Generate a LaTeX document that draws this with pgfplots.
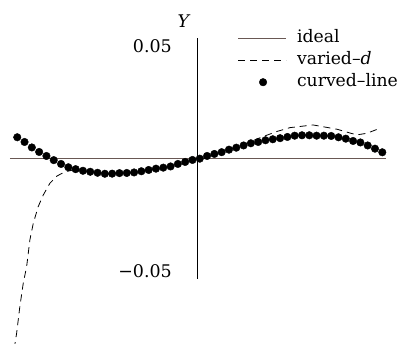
\documentclass[border=0pt]{standalone}
\usepackage{pgfplots}
\pgfplotsset{compat=1.18}
\usepackage{fontspec}
\setmainfont{DejaVu Serif}
\definecolor{ideal}{RGB}{105,88,84}
\pgfplotsset{
  longline legend/.style={legend image code/.code={\draw[##1] (0bp,0bp) -- (48bp,0bp);}},
  dot legend/.style={legend image code/.code={\pgfpathrectangle{\pgfqpoint{0bp}{-2bp}}{\pgfqpoint{48bp}{4bp}}\pgfusepath{discard}\draw[##1] plot coordinates {(25bp,0bp)};}},
}
\begin{document}
\fontsize{17.5}{21}\selectfont
\begin{tikzpicture}
\begin{axis}[
  scale only axis, width=410bp, height=344bp,
  xmin=-1.042, xmax=1.127, ymin=-0.0825, ymax=0.0703,
  axis x line=none, axis y line=center,
  y axis line style={draw=none},
  scaled y ticks=false,
  xtick=\empty, ytick={-0.05,0.05}, yticklabels={−0.05,0.05},
  major tick length=0pt,
  yticklabel style={anchor=east, inner sep=0pt, xshift=-25bp, font=\fontsize{17.5}{21}\selectfont},
  ylabel={\textit{Y}},
  ylabel style={at={(axis cs:-0.068,0.0608)}, anchor=center, rotate=0, font=\fontsize{17.5}{21}\selectfont},
  clip=true,
  legend style={draw=none, fill=none, at={(axis cs:0.214,0.0583)}, anchor=north west,
    font=\fontsize{17.3}{21}\selectfont, row sep=0bp, inner sep=0pt,
    nodes={inner sep=2.5bp, text height=13bp, text depth=4bp},
    /tikz/every odd column/.append style={column sep=8bp}},
  legend cell align=left,
]
\addplot[ideal, line width=0.9pt, longline legend] coordinates {(-0.99,0) (1.0,0)};
\addlegendentry{ideal}
\addplot[black, line width=0.8pt, dash pattern=on 7bp off 5bp, longline legend] coordinates {
(-0.975,-0.0900) (-0.963,-0.0825) (-0.954,-0.0777) (-0.937,-0.0659) (-0.919,-0.0555)
(-0.901,-0.0481) (-0.884,-0.0363) (-0.866,-0.0289) (-0.840,-0.0215) (-0.813,-0.0163)
(-0.778,-0.0111) (-0.741,-0.0079) (-0.698,-0.0060) (-0.642,-0.0050) (-0.566,-0.0060)
(-0.487,-0.0068) (-0.407,-0.0066) (-0.328,-0.0063) (-0.249,-0.0051) (-0.169,-0.0041)
(-0.090,-0.0023) (0,-0.0003) (0.095,0.0019) (0.175,0.0040) (0.254,0.0064)
(0.349,0.0096) (0.423,0.0119) (0.492,0.0136) (0.614,0.0148) (0.741,0.0129)
(0.810,0.0112) (0.847,0.0104) (0.899,0.0111) (0.958,0.0130)};
\addlegendentry{varied–\textit{d}}
\addplot[only marks, mark=*, mark size=3.8pt, black, dot legend] coordinates {
(-0.9508,0.00933) (-0.9122,0.00724) (-0.8735,0.00480) (-0.8349,0.00280) (-0.7963,0.00102)
(-0.7577,-0.00084) (-0.7190,-0.00253) (-0.6804,-0.00400) (-0.6418,-0.00484) (-0.6032,-0.00555)
(-0.5646,-0.00600) (-0.5259,-0.00644) (-0.4873,-0.00688) (-0.4487,-0.00684) (-0.4101,-0.00660)
(-0.3714,-0.00653) (-0.3328,-0.00630) (-0.2942,-0.00577) (-0.2556,-0.00520) (-0.2169,-0.00462)
(-0.1783,-0.00417) (-0.1397,-0.00364) (-0.1011,-0.00253) (-0.0624,-0.00164) (-0.0238,-0.00075)
(0.0148,-0.00018) (0.0534,0.00102) (0.0921,0.00191) (0.1307,0.00271) (0.1693,0.00382)
(0.2079,0.00470) (0.2466,0.00568) (0.2852,0.00666) (0.3238,0.00724) (0.3624,0.00800)
(0.4011,0.00844) (0.4397,0.00892) (0.4783,0.00946) (0.5169,0.01003) (0.5556,0.01021)
(0.5942,0.01021) (0.6328,0.01003) (0.6714,0.01003) (0.7101,0.00990) (0.7487,0.00932)
(0.7873,0.00870) (0.8259,0.00768) (0.8646,0.00702) (0.9032,0.00568) (0.9418,0.00426)
(0.9804,0.00266)};
\addlegendentry{curved–line}
\addplot[black, line width=0.6pt, forget plot] coordinates {(0,-0.0536) (0,0.0534)};
\end{axis}
\pgfresetboundingbox
\path (current axis.south west) rectangle (current axis.north east);
\end{tikzpicture}
\end{document}
